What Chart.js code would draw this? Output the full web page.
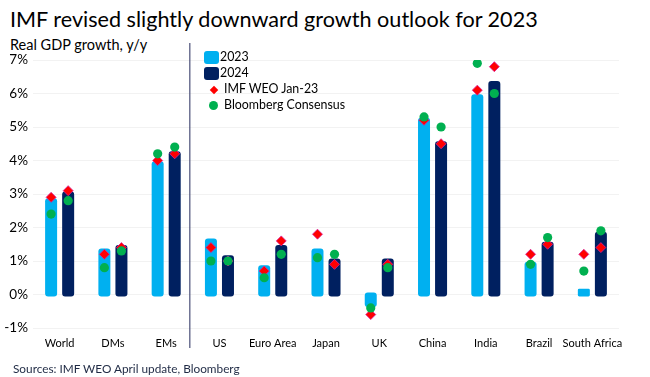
<!DOCTYPE html>
<html>
<head>
<meta charset="utf-8">
<script src="https://cdn.jsdelivr.net/npm/chart.js@4"></script>
<style>
  body { margin: 0; background: #fff; font-family: Lato, "Open Sans", sans-serif; }
  #wrap { position: relative; width: 650px; height: 377px; overflow: hidden; }
  #chart-box { position: absolute; left: 0; top: 0; width: 650px; height: 377px; }
  .title { position: absolute; left: 10px; top: 6px; font-size: 21.6px; color: #000; white-space: nowrap; }
  .sub { position: absolute; left: 10px; top: 36px; font-size: 14.5px; color: #000; white-space: nowrap; }
  .src { position: absolute; left: 13px; top: 361px; font-size: 11.8px; color: #1f2a44; white-space: nowrap; }
  #legend { position: absolute; left: 204px; top: 49px; font-size: 12.4px; color: #000; }
  #legend div { height: 16px; line-height: 16px; white-space: nowrap; position: relative; }
  #legend .sw { display: inline-block; vertical-align: middle; }
</style>
</head>
<body>
<div id="wrap">
  <div class="title">IMF revised slightly downward growth outlook for 2023</div>
  <div class="sub">Real GDP growth, y/y</div>
  <div id="chart-box"><canvas id="gdp-chart"></canvas></div>
  <div id="legend"></div>
  <div class="src">Sources: IMF WEO April update, Bloomberg</div>
</div>
<script>
const categories = ['World', 'DMs', 'EMs', 'US', 'Euro Area', 'Japan', 'UK', 'China', 'India', 'Brazil', 'South Africa'];

// IMF WEO April update
const imf2023 = [2.8, 1.3, 3.9, 1.6, 0.8, 1.3, -0.3, 5.2, 5.9, 0.9, 0.1];
const imf2024 = [3.0, 1.4, 4.2, 1.1, 1.4, 1.0, 1.0, 4.5, 6.3, 1.5, 1.8];

// IMF WEO Jan-23 (2023, 2024)
const jan2023 = [2.9, 1.2, 4.0, 1.4, 0.7, 1.8, -0.6, 5.2, 6.1, 1.2, 1.2];
const jan2024 = [3.1, 1.4, 4.2, 1.0, 1.6, 0.9, 0.9, 4.5, 6.8, 1.5, 1.4];

// Bloomberg Consensus (2023, 2024)
const bbg2023 = [2.4, 0.8, 4.2, 1.0, 0.5, 1.1, -0.4, 5.3, 6.9, 0.9, 0.7];
const bbg2024 = [2.8, 1.3, 4.4, 1.0, 1.2, 1.2, 0.8, 5.0, 6.0, 1.7, 1.9];

const yTicks = [-1, 0, 1, 2, 3, 4, 5, 6, 7];

const light = '#00b0f0';
const navy = '#002060';
const red = '#ff0000';
const green = '#00b050';

// 2023 sits left of the category, 2024 right of it
const off = 0.16;
const at = (vals, shift) => vals.map((v, i) => ({ x: i + shift, y: v }));

// vertical separator between EMs and the countries
const separator = {
    id: 'separator',
    afterDatasetsDraw(chart) {
        const x = chart.scales.x.getPixelForValue(2.5) - 3;
        const c = chart.ctx;
        c.save();
        c.strokeStyle = '#4a5078';
        c.lineWidth = 1.2;
        c.beginPath();
        c.moveTo(x, 43);
        c.lineTo(x, 348);
        c.stroke();
        c.restore();
    }
};

// thick rounded outline like the Excel bars: narrow bar + inflate on every side
const barStyle = { borderRadius: 3, borderSkipped: false, barThickness: 7, inflateAmount: 2.5, grouped: false, order: 3 };

const ctx = document.getElementById('gdp-chart').getContext('2d');
const gdpChart = new Chart(ctx, {
    type: 'bar',
    data: {
        datasets: [
            Object.assign({ label: '2023', data: at(imf2023, -off), backgroundColor: light }, barStyle),
            Object.assign({ label: '2024', data: at(imf2024, off), backgroundColor: navy }, barStyle),
            {
                type: 'scatter',
                label: 'IMF WEO Jan-23',
                data: at(jan2023, -off).concat(at(jan2024, off)),
                pointStyle: 'rectRot',
                pointRadius: 5,
                backgroundColor: red,
                borderColor: '#d8209a',
                borderWidth: 0.8,
                order: 2
            }, {
                type: 'scatter',
                label: 'Bloomberg Consensus',
                data: at(bbg2023, -off).concat(at(bbg2024, off)),
                pointStyle: 'circle',
                pointRadius: 4.6,
                backgroundColor: green,
                borderWidth: 0,
                order: 1
            }
        ]
    },
    options: {
        responsive: true,
        maintainAspectRatio: false,
        animation: false,
        layout: { padding: { top: 60, right: 31, bottom: 0, left: 0 } },
        plugins: {
            legend: { display: false },
            tooltip: { enabled: false }
        },
        scales: {
            x: {
                type: 'linear',
                min: -0.5,
                max: categories.length - 0.5,
                offset: false,
                afterBuildTicks(scale) { scale.ticks = categories.map((c, i) => ({ value: i })); },
                grid: { display: false, drawTicks: false, offset: false },
                border: { display: false },
                ticks: {
                    color: '#000',
                    font: { family: 'Lato', size: 11 },
                    padding: 9,
                    maxRotation: 0,
                    autoSkip: false,
                    callback: v => categories[v]
                },
                afterFit(scale) { scale.height = 49; }
            },
            y: {
                min: -1,
                max: 7,
                afterBuildTicks(scale) { scale.ticks = yTicks.map(v => ({ value: v })); },
                grid: { color: '#f2f2f2', drawTicks: false },
                border: { display: false },
                ticks: {
                    color: '#000',
                    font: { family: 'Lato', size: 13.5 },
                    padding: 5,
                    callback: v => v + '%'
                },
                afterFit(scale) { scale.width = 33; }
            }
        }
    },
    plugins: [separator]
});

// legend built from the datasets
const legend = document.getElementById('legend');
gdpChart.data.datasets.forEach(ds => {
    const row = document.createElement('div');
    const sw = document.createElement('span');
    sw.className = 'sw';
    if (ds.type === 'scatter') {
        if (ds.pointStyle === 'rectRot') {
            sw.style.cssText = 'width:6px;height:6px;background:' + ds.backgroundColor + ';transform:rotate(45deg);margin:0 7px 0 7px;';
        } else {
            sw.style.cssText = 'width:9px;height:9px;border-radius:50%;background:' + ds.backgroundColor + ';margin:0 6px 0 5px;';
        }
    } else {
        sw.style.cssText = 'width:15px;height:13px;border-radius:3px;background:' + ds.backgroundColor + ';margin-right:1px;';
    }
    row.appendChild(sw);
    row.appendChild(document.createTextNode(ds.label));
    legend.appendChild(row);
});
</script>
</body>
</html>
